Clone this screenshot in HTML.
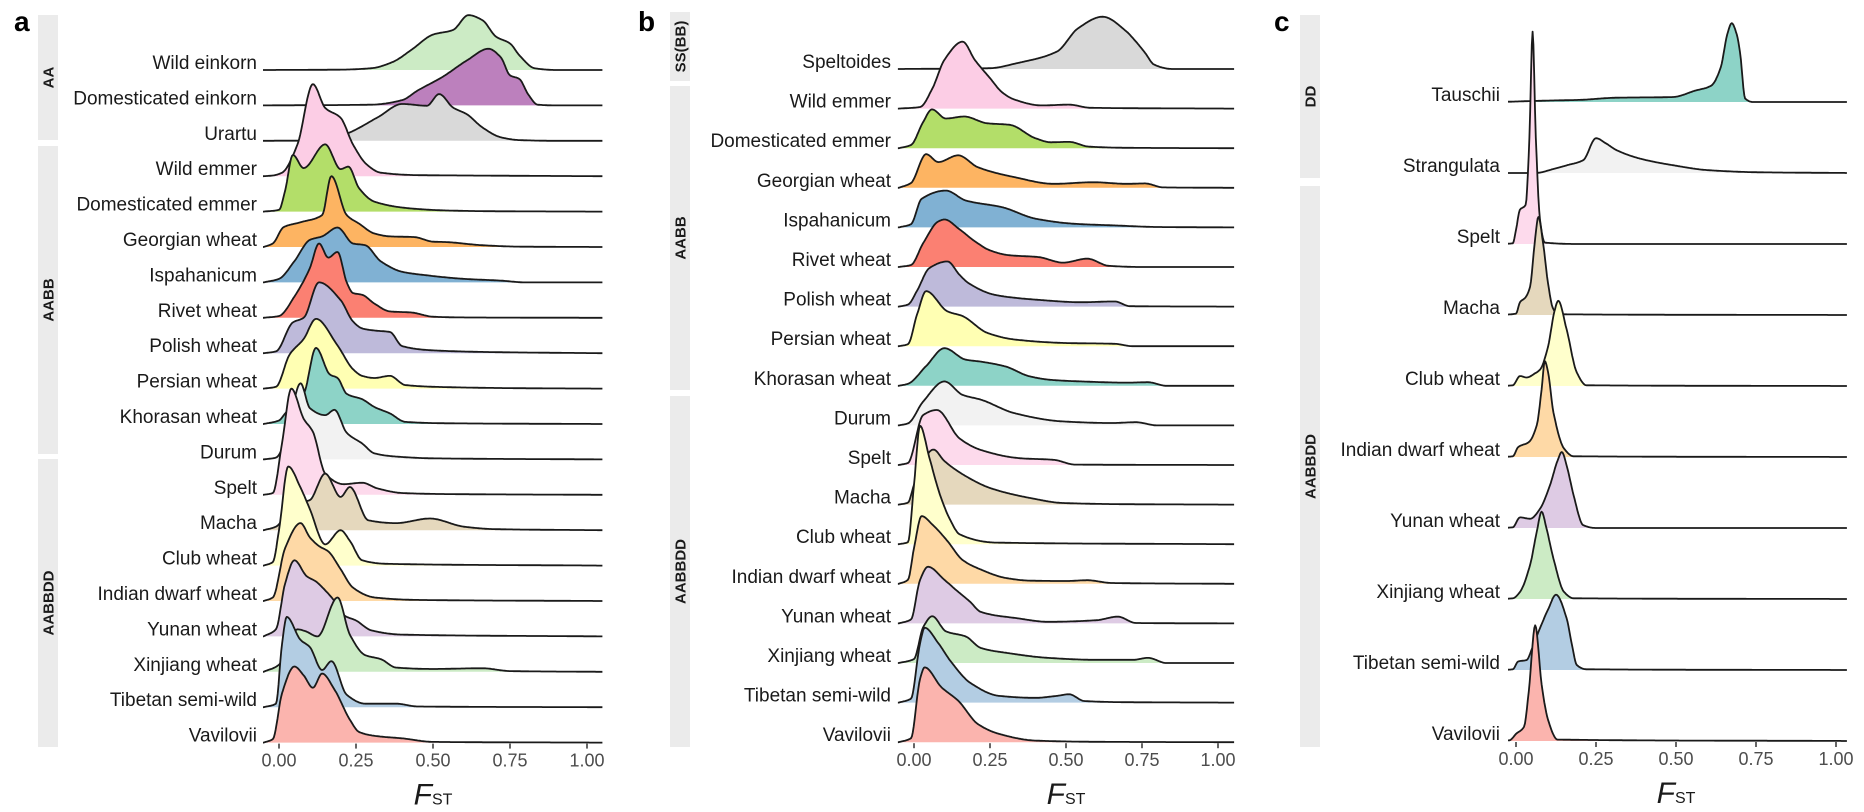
<!DOCTYPE html>
<html><head><meta charset="utf-8">
<style>
html,body{margin:0;padding:0;background:#fff;}
svg{display:block;font-family:"Liberation Sans",Arial,sans-serif;}
</style></head>
<body>
<svg id="chart" width="1864" height="812" viewBox="0 0 1864 812" xmlns="http://www.w3.org/2000/svg"></svg>
<script>
// ---------- data ----------
const tickValues = [0, 0.25, 0.5, 0.75, 1.0];
const tickLabels = ["0.00", "0.25", "0.50", "0.75", "1.00"];

const aNames = ["Wild einkorn","Domesticated einkorn","Urartu","Wild emmer","Domesticated emmer","Georgian wheat","Ispahanicum","Rivet wheat","Polish wheat","Persian wheat","Khorasan wheat","Durum","Spelt","Macha","Club wheat","Indian dwarf wheat","Yunan wheat","Xinjiang wheat","Tibetan semi-wild","Vavilovii"];
const aColors = ["#CCEBC5","#BC80BD","#D9D9D9","#FCCDE5","#B3DE69","#FDB462","#80B1D3","#FB8072","#BEBADA","#FFFFB3","#8DD3C7","#F2F2F2","#FDDAEC","#E5D8BD","#FFFFCC","#FED9A6","#DECBE4","#CCEBC5","#B3CDE3","#FBB4AE"];
const aGroups = ["AA","AABB","AABBDD"];
const aDensity = [
 [[-0.05,0],[0.2,0.01],[0.3,0.05],[0.37,0.23],[0.43,0.57],[0.5,1.0],[0.565,1.13],[0.615,1.55],[0.66,1.41],[0.705,0.94],[0.75,0.75],[0.78,0.42],[0.83,0.05],[0.9,0],[1.05,0]],
 [[-0.05,0],[0.3,0.02],[0.4,0.15],[0.45,0.42],[0.53,0.8],[0.61,1.27],[0.68,1.6],[0.72,1.36],[0.75,0.85],[0.78,0.75],[0.81,0.3],[0.84,0.02],[0.9,0],[1.05,0]],
 [[-0.05,0],[0.15,0.01],[0.22,0.2],[0.32,0.66],[0.4,1.04],[0.48,0.99],[0.52,1.32],[0.565,0.94],[0.61,0.75],[0.66,0.38],[0.72,0.1],[0.78,0.02],[0.9,0],[1.05,0]],
 [[-0.05,0],[-0.02,0.02],[0.01,0.1],[0.06,0.9],[0.11,2.6],[0.15,1.93],[0.2,1.65],[0.24,0.9],[0.285,0.33],[0.33,0.1],[0.45,0.03],[0.6,0.02],[1.05,0]],
 [[-0.05,0],[0.0,0.05],[0.02,0.6],[0.045,1.6],[0.08,1.23],[0.15,1.9],[0.2,1.2],[0.225,1.27],[0.26,0.66],[0.31,0.28],[0.44,0.08],[0.55,0.03],[0.7,0.01],[1.05,0]],
 [[-0.05,0],[-0.02,0.1],[0.015,0.56],[0.07,0.7],[0.14,0.9],[0.17,2.0],[0.22,0.9],[0.26,0.66],[0.31,0.38],[0.36,0.3],[0.44,0.28],[0.5,0.15],[0.54,0.14],[0.66,0.05],[0.78,0.01],[1.05,0]],
 [[-0.05,0],[0.0,0.1],[0.05,0.6],[0.1,1.2],[0.14,1.3],[0.19,1.55],[0.24,1.1],[0.28,1.05],[0.33,0.6],[0.4,0.3],[0.48,0.2],[0.6,0.1],[0.72,0.05],[0.8,0],[1.05,0]],
 [[-0.05,0],[0.0,0.05],[0.05,0.6],[0.1,1.4],[0.13,2.1],[0.16,1.7],[0.19,1.86],[0.22,1.0],[0.24,0.7],[0.27,0.65],[0.31,0.4],[0.36,0.18],[0.43,0.15],[0.5,0.03],[0.6,0.01],[1.05,0]],
 [[-0.05,0],[-0.01,0.05],[0.045,0.87],[0.08,1.0],[0.13,2.0],[0.2,1.5],[0.24,0.9],[0.27,0.7],[0.31,0.64],[0.36,0.6],[0.4,0.2],[0.5,0.08],[0.7,0.03],[1.05,0]],
 [[-0.05,0],[-0.01,0.05],[0.035,0.97],[0.08,1.4],[0.12,1.97],[0.19,1.22],[0.24,0.55],[0.27,0.36],[0.31,0.3],[0.36,0.36],[0.41,0.1],[0.55,0.04],[0.8,0.01],[1.05,0]],
 [[-0.05,0],[0.0,0.1],[0.02,0.3],[0.06,0.7],[0.08,0.85],[0.12,2.15],[0.165,1.4],[0.19,1.3],[0.22,0.85],[0.27,0.7],[0.31,0.48],[0.36,0.3],[0.41,0.06],[0.55,0.02],[1.05,0]],
 [[-0.05,0],[-0.01,0.05],[0.02,0.5],[0.07,2.15],[0.1,1.45],[0.15,1.25],[0.18,1.4],[0.22,0.75],[0.27,0.45],[0.31,0.17],[0.38,0.08],[0.5,0.03],[1.05,0]],
 [[-0.05,0],[-0.02,0.05],[0.01,1.47],[0.04,3.0],[0.08,2.15],[0.11,1.78],[0.15,0.6],[0.21,0.3],[0.27,0.34],[0.32,0.18],[0.4,0.05],[0.55,0.02],[1.05,0]],
 [[-0.05,0],[-0.01,0.1],[0.03,0.5],[0.08,0.8],[0.1,0.85],[0.15,1.6],[0.2,0.94],[0.23,1.22],[0.29,0.28],[0.38,0.2],[0.49,0.33],[0.6,0.1],[0.7,0.03],[1.05,0]],
 [[-0.05,0],[-0.02,0.1],[0.0,1.0],[0.03,2.8],[0.07,2.2],[0.1,1.6],[0.15,0.6],[0.2,1.0],[0.23,0.7],[0.27,0.15],[0.35,0.05],[1.05,0]],
 [[-0.05,0],[-0.02,0.1],[0.02,1.5],[0.07,2.2],[0.1,1.8],[0.13,1.55],[0.16,1.4],[0.2,0.9],[0.24,0.38],[0.31,0.1],[0.45,0.03],[1.05,0]],
 [[-0.05,0],[-0.01,0.2],[0.02,1.5],[0.05,2.15],[0.09,1.7],[0.12,1.55],[0.15,1.3],[0.18,1.0],[0.21,0.6],[0.25,0.45],[0.3,0.17],[0.4,0.05],[1.05,0]],
 [[-0.05,0],[0.0,0.2],[0.03,0.8],[0.06,1.2],[0.085,1.15],[0.125,1.0],[0.19,2.1],[0.23,1.05],[0.28,0.47],[0.33,0.36],[0.38,0.12],[0.5,0.08],[0.66,0.1],[0.75,0.02],[1.05,0]],
 [[-0.05,0],[-0.01,0.1],[0.01,1.8],[0.025,2.55],[0.07,1.9],[0.1,1.7],[0.14,1.05],[0.17,1.3],[0.22,0.35],[0.28,0.1],[0.38,0.1],[0.45,0.02],[1.05,0]],
 [[-0.05,0],[-0.02,0.1],[0.01,1.4],[0.05,2.15],[0.08,1.9],[0.11,1.55],[0.14,1.95],[0.18,1.5],[0.23,0.65],[0.26,0.3],[0.32,0.18],[0.4,0.12],[0.5,0.02],[1.05,0]]
];

const bNames = ["Speltoides","Wild emmer","Domesticated emmer","Georgian wheat","Ispahanicum","Rivet wheat","Polish wheat","Persian wheat","Khorasan wheat","Durum","Spelt","Macha","Club wheat","Indian dwarf wheat","Yunan wheat","Xinjiang wheat","Tibetan semi-wild","Vavilovii"];
const bColors = ["#D9D9D9","#FCCDE5","#B3DE69","#FDB462","#80B1D3","#FB8072","#BEBADA","#FFFFB3","#8DD3C7","#F2F2F2","#FDDAEC","#E5D8BD","#FFFFCC","#FED9A6","#DECBE4","#CCEBC5","#B3CDE3","#FBB4AE"];
const bGroups = ["SS(BB)","AABB","AABBDD"];
const bDensity = [
 [[-0.05,0],[0.25,0.02],[0.34,0.15],[0.47,0.44],[0.54,1.03],[0.62,1.32],[0.7,0.94],[0.72,0.78],[0.76,0.41],[0.79,0.11],[0.85,0],[1.05,0]],
 [[-0.05,0],[0.02,0.04],[0.06,0.5],[0.1,1.23],[0.16,1.69],[0.2,1.23],[0.25,0.77],[0.29,0.41],[0.33,0.23],[0.42,0.08],[0.51,0.1],[0.58,0.02],[1.05,0]],
 [[-0.05,0],[-0.01,0.08],[0.03,0.66],[0.059,0.98],[0.105,0.75],[0.165,0.8],[0.24,0.63],[0.315,0.59],[0.4,0.25],[0.45,0.15],[0.51,0.16],[0.575,0.04],[0.7,0.01],[1.05,0]],
 [[-0.05,0],[-0.01,0.12],[0.04,0.85],[0.08,0.65],[0.145,0.82],[0.21,0.52],[0.33,0.27],[0.46,0.1],[0.59,0.14],[0.7,0.1],[0.76,0.11],[0.82,0.01],[1.05,0]],
 [[-0.05,0],[-0.01,0.08],[0.025,0.72],[0.105,0.93],[0.17,0.68],[0.29,0.51],[0.4,0.22],[0.53,0.09],[0.66,0.05],[0.8,0.01],[1.05,0]],
 [[-0.05,0],[-0.01,0.05],[0.03,0.6],[0.08,1.15],[0.1,1.2],[0.15,0.95],[0.2,0.65],[0.25,0.42],[0.31,0.3],[0.41,0.25],[0.49,0.11],[0.57,0.21],[0.64,0.03],[0.75,0],[1.05,0]],
 [[-0.05,0],[-0.02,0.05],[0.01,0.4],[0.05,0.97],[0.11,1.14],[0.15,0.8],[0.18,0.59],[0.27,0.29],[0.41,0.17],[0.55,0.11],[0.66,0.13],[0.71,0.01],[1.05,0]],
 [[-0.05,0],[-0.02,0.05],[0.01,0.8],[0.04,1.39],[0.11,0.88],[0.16,0.76],[0.24,0.34],[0.33,0.17],[0.5,0.08],[0.66,0.06],[0.72,0],[1.05,0]],
 [[-0.05,0],[-0.02,0.05],[0.04,0.5],[0.1,0.95],[0.17,0.66],[0.22,0.61],[0.3,0.49],[0.38,0.24],[0.45,0.15],[0.55,0.11],[0.7,0.08],[0.77,0.09],[0.83,0],[1.05,0]],
 [[-0.05,0],[-0.02,0.05],[0.03,0.6],[0.1,1.11],[0.16,0.77],[0.22,0.65],[0.33,0.31],[0.49,0.1],[0.65,0.06],[0.73,0.08],[0.8,0],[1.05,0]],
 [[-0.05,0],[-0.02,0.05],[0.03,1.26],[0.075,1.39],[0.15,0.67],[0.22,0.38],[0.35,0.17],[0.46,0.13],[0.53,0.01],[1.05,0]],
 [[-0.05,0],[-0.02,0.05],[0.0,0.5],[0.03,1.1],[0.064,1.39],[0.1,1.1],[0.17,0.72],[0.25,0.42],[0.38,0.17],[0.49,0.04],[0.7,0.01],[1.05,0]],
 [[-0.05,0],[-0.02,0.05],[0.0,1.5],[0.02,2.99],[0.05,2.2],[0.085,1.26],[0.12,0.6],[0.15,0.25],[0.27,0.04],[1.05,0]],
 [[-0.05,0],[-0.02,0.1],[0.0,0.9],[0.025,1.71],[0.06,1.5],[0.11,1.08],[0.16,0.6],[0.22,0.36],[0.3,0.15],[0.38,0.08],[0.5,0.07],[0.57,0.09],[0.65,0.02],[1.05,0]],
 [[-0.05,0],[-0.01,0.1],[0.02,1.1],[0.046,1.43],[0.1,1.1],[0.145,0.8],[0.184,0.55],[0.22,0.29],[0.34,0.13],[0.44,0.04],[0.6,0.08],[0.67,0.17],[0.73,0.01],[1.05,0]],
 [[-0.05,0],[0.0,0.1],[0.03,0.9],[0.06,1.18],[0.105,0.8],[0.17,0.67],[0.22,0.38],[0.31,0.25],[0.44,0.13],[0.6,0.08],[0.72,0.08],[0.77,0.13],[0.83,0.0],[1.05,0]],
 [[-0.05,0],[-0.01,0.1],[0.02,1.5],[0.035,1.89],[0.08,1.5],[0.12,1.05],[0.185,0.5],[0.28,0.17],[0.4,0.12],[0.47,0.17],[0.51,0.21],[0.56,0.04],[0.7,0.01],[1.05,0]],
 [[-0.05,0],[-0.01,0.1],[0.02,1.6],[0.035,1.89],[0.09,1.39],[0.145,1.05],[0.21,0.46],[0.28,0.21],[0.4,0.04],[0.6,0.01],[1.05,0]]
];

const cNames = ["Tauschii","Strangulata","Spelt","Macha","Club wheat","Indian dwarf wheat","Yunan wheat","Xinjiang wheat","Tibetan semi-wild","Vavilovii"];
const cColors = ["#8DD3C7","#F2F2F2","#FDDAEC","#E5D8BD","#FFFFCC","#FED9A6","#DECBE4","#CCEBC5","#B3CDE3","#FBB4AE"];
const cGroups = ["DD","AABBDD"];
const cDensity = [
 [[-0.05,0],[0.1,0.02],[0.2,0.03],[0.31,0.06],[0.49,0.07],[0.56,0.16],[0.61,0.23],[0.64,0.49],[0.66,0.95],[0.674,1.11],[0.69,0.95],[0.7,0.7],[0.716,0.05],[0.74,0],[1.05,0]],
 [[-0.05,0],[0.06,0],[0.12,0.06],[0.16,0.11],[0.21,0.18],[0.25,0.49],[0.28,0.42],[0.315,0.32],[0.39,0.2],[0.49,0.11],[0.6,0.04],[0.76,0.01],[1.05,0]],
 [[-0.05,0],[-0.01,0.01],[0.0,0.2],[0.012,0.48],[0.03,0.55],[0.042,1.5],[0.052,2.99],[0.062,1.5],[0.075,0.34],[0.09,0.02],[0.2,0],[1.05,0]],
 [[-0.05,0],[0.0,0.02],[0.0125,0.18],[0.03,0.25],[0.044,0.4],[0.058,1.0],[0.07,1.38],[0.085,1.0],[0.1,0.45],[0.115,0.1],[0.13,0.01],[1.05,0]],
 [[-0.05,0],[-0.01,0.01],[0.0125,0.14],[0.033,0.12],[0.06,0.18],[0.075,0.23],[0.1,0.55],[0.12,1.05],[0.132,1.2],[0.158,0.8],[0.19,0.19],[0.22,0.01],[1.05,0]],
 [[-0.05,0],[-0.01,0.01],[0.007,0.14],[0.04,0.21],[0.065,0.45],[0.08,0.95],[0.09,1.35],[0.1,1.2],[0.117,0.63],[0.15,0.12],[0.18,0.01],[1.05,0]],
 [[-0.05,0],[-0.01,0.01],[0.0125,0.15],[0.044,0.13],[0.075,0.27],[0.106,0.6],[0.13,0.95],[0.143,1.07],[0.16,0.85],[0.18,0.46],[0.21,0.04],[0.25,0],[1.05,0]],
 [[-0.05,0],[-0.01,0.01],[0.0125,0.1],[0.044,0.48],[0.065,0.95],[0.08,1.23],[0.095,1.0],[0.117,0.57],[0.15,0.1],[0.18,0.01],[1.05,0]],
 [[-0.05,0],[-0.01,0.01],[0.007,0.12],[0.033,0.14],[0.05,0.3],[0.075,0.59],[0.1,0.85],[0.125,1.06],[0.158,0.73],[0.175,0.35],[0.19,0.07],[0.22,0.01],[1.05,0]],
 [[-0.05,0],[-0.02,0.01],[0.0,0.1],[0.025,0.2],[0.04,0.7],[0.06,1.63],[0.08,0.8],[0.1,0.3],[0.13,0.02],[1.05,0]]
];

// ---------- layout (styling, not data) ----------
const panels = [
  {id:"a", names:aNames, colors:aColors, dens:aDensity, groups:aGroups,
   x0:279, k:308, d0:-0.052, d1:1.05, base0:70, step:35.4, unit:35.4, labelX:257,
   strip:{x:38, w:20, spans:[[15,140],[146,454],[459,747]]}, letter:[14,31]},
  {id:"b", names:bNames, colors:bColors, dens:bDensity, groups:bGroups,
   x0:914, k:304, d0:-0.053, d1:1.053, base0:69, step:39.6, unit:39.6, labelX:891,
   strip:{x:670, w:20, spans:[[12,81],[86,390],[396,747]]}, letter:[638,31]},
  {id:"c", names:cNames, colors:cColors, dens:cDensity, groups:cGroups,
   x0:1516, k:320, d0:-0.025, d1:1.034, base0:102, step:71, unit:71, labelX:1500,
   strip:{x:1300, w:20, spans:[[15,178],[186,747]]}, letter:[1274,31]}
];

const NS = "http://www.w3.org/2000/svg";
const svg = document.getElementById("chart");
function mk(tag, attrs, parent){
  const e = document.createElementNS(NS, tag);
  for (const k in attrs) e.setAttribute(k, attrs[k]);
  (parent||svg).appendChild(e);
  return e;
}
function slug(s){ return s.toLowerCase().replace(/[^a-z0-9]+/g,"-").replace(/^-|-$/g,""); }

// Monotone cubic (Fritsch-Carlson) interpolation of h as a function of x
function sampleCurve(pts, d0, d1){
  const n = pts.length, x = pts.map(p=>p[0]), y = pts.map(p=>p[1]);
  const dk = [], m = new Array(n);
  for (let i = 0; i < n-1; i++) dk.push((y[i+1]-y[i])/(x[i+1]-x[i]));
  m[0] = dk[0]; m[n-1] = dk[n-2];
  for (let i = 1; i < n-1; i++){
    if (dk[i-1]*dk[i] <= 0) m[i] = 0;
    else {
      const w1 = 2*(x[i+1]-x[i]) + (x[i]-x[i-1]), w2 = (x[i+1]-x[i]) + 2*(x[i]-x[i-1]);
      m[i] = (w1+w2)/(w1/dk[i-1] + w2/dk[i]);
    }
  }
  const out = [];
  for (let i = 0; i < n-1; i++){
    const h = x[i+1]-x[i], steps = Math.max(4, Math.ceil(h/0.003));
    for (let j = 0; j < steps; j++){
      const t = j/steps, t2=t*t, t3=t2*t;
      const v = (2*t3-3*t2+1)*y[i] + (t3-2*t2+t)*h*m[i] + (-2*t3+3*t2)*y[i+1] + (t3-t2)*h*m[i+1];
      out.push([x[i]+t*h, Math.max(0,v)]);
    }
  }
  out.push([x[n-1], y[n-1]]);
  let s = out.filter(p => p[0] >= d0 && p[0] <= d1);
  s.unshift([d0, s.length ? s[0][1] : 0]);
  s.push([d1, s.length ? s[s.length-1][1] : 0]);
  return s;
}

panels.forEach(P => {
  const g = mk("g", {});
  
  
  const xs = v => P.x0 + v * P.k;
  const base = i => P.base0 + i * P.step;

  const L = mk("text", {x:P.letter[0], y:P.letter[1], "font-size":28, "font-weight":"bold", fill:"#000"}, g);
  L.textContent = P.id;
  
  

  P.strip.spans.forEach((sp, gi) => {
    const r = mk("rect", {x:P.strip.x, y:sp[0], width:P.strip.w, height:sp[1]-sp[0], fill:"#EBEBEB"}, g);
    
    
    const cx = P.strip.x + P.strip.w/2 + 5.5, cy = (sp[0]+sp[1])/2;
    const t = mk("text", {x:cx, y:cy, "font-size":15, "font-weight":"bold", fill:"#1a1a1a",
      "text-anchor":"middle", transform:`rotate(-90 ${cx} ${cy})`}, g);
    t.textContent = P.groups[gi];
    
    
  });

  P.names.forEach((nm, i) => {
    const b = base(i);
    const s = sampleCurve(P.dens[i], P.d0, P.d1);
    const pts = s.map(p => [xs(p[0]), b - p[1]*P.unit]);
    const dFill = `M${pts[0][0].toFixed(1)},${b} ` + pts.map(p=>`L${p[0].toFixed(1)},${p[1].toFixed(1)}`).join(" ") + ` L${pts[pts.length-1][0].toFixed(1)},${b} Z`;
    const dLine = "M" + pts.map(p=>`${p[0].toFixed(1)},${p[1].toFixed(1)}`).join(" L");
    const rg = mk("g", {}, g);
    
    
    const f = mk("path", {d:dFill, fill:P.colors[i], stroke:"none"}, rg);
    
    
    const l = mk("path", {d:dLine, fill:"none", stroke:"#1a1a1a", "stroke-width":1.8, "stroke-linejoin":"round"}, rg);
    
    
    const lab = mk("text", {x:P.labelX, y:b-1, "font-size":19, fill:"#1a1a1a", "text-anchor":"end"}, g);
    lab.textContent = nm;
    
    
  });

  const yb = base(P.names.length - 1);
  tickValues.forEach((v, ti) => {
    const tk = mk("line", {x1:xs(v), x2:xs(v), y1:yb+1, y2:yb+6, stroke:"#333", "stroke-width":1.5}, g);
    
    
    const tl = mk("text", {x:xs(v), y:yb+24, "font-size":18, fill:"#4D4D4D", "text-anchor":"middle"}, g);
    tl.textContent = tickLabels[ti];
    
    
  });

  const tt = mk("text", {x:xs(0.5), y:yb+62, "text-anchor":"middle", fill:"#1a1a1a"}, g);
  
  
  const f1 = mk("tspan", {"font-size":30, "font-style":"italic"}, tt); f1.textContent = "F";
  const f2 = mk("tspan", {"font-size":16}, tt); f2.textContent = "ST";
});
</script>
</body></html>
